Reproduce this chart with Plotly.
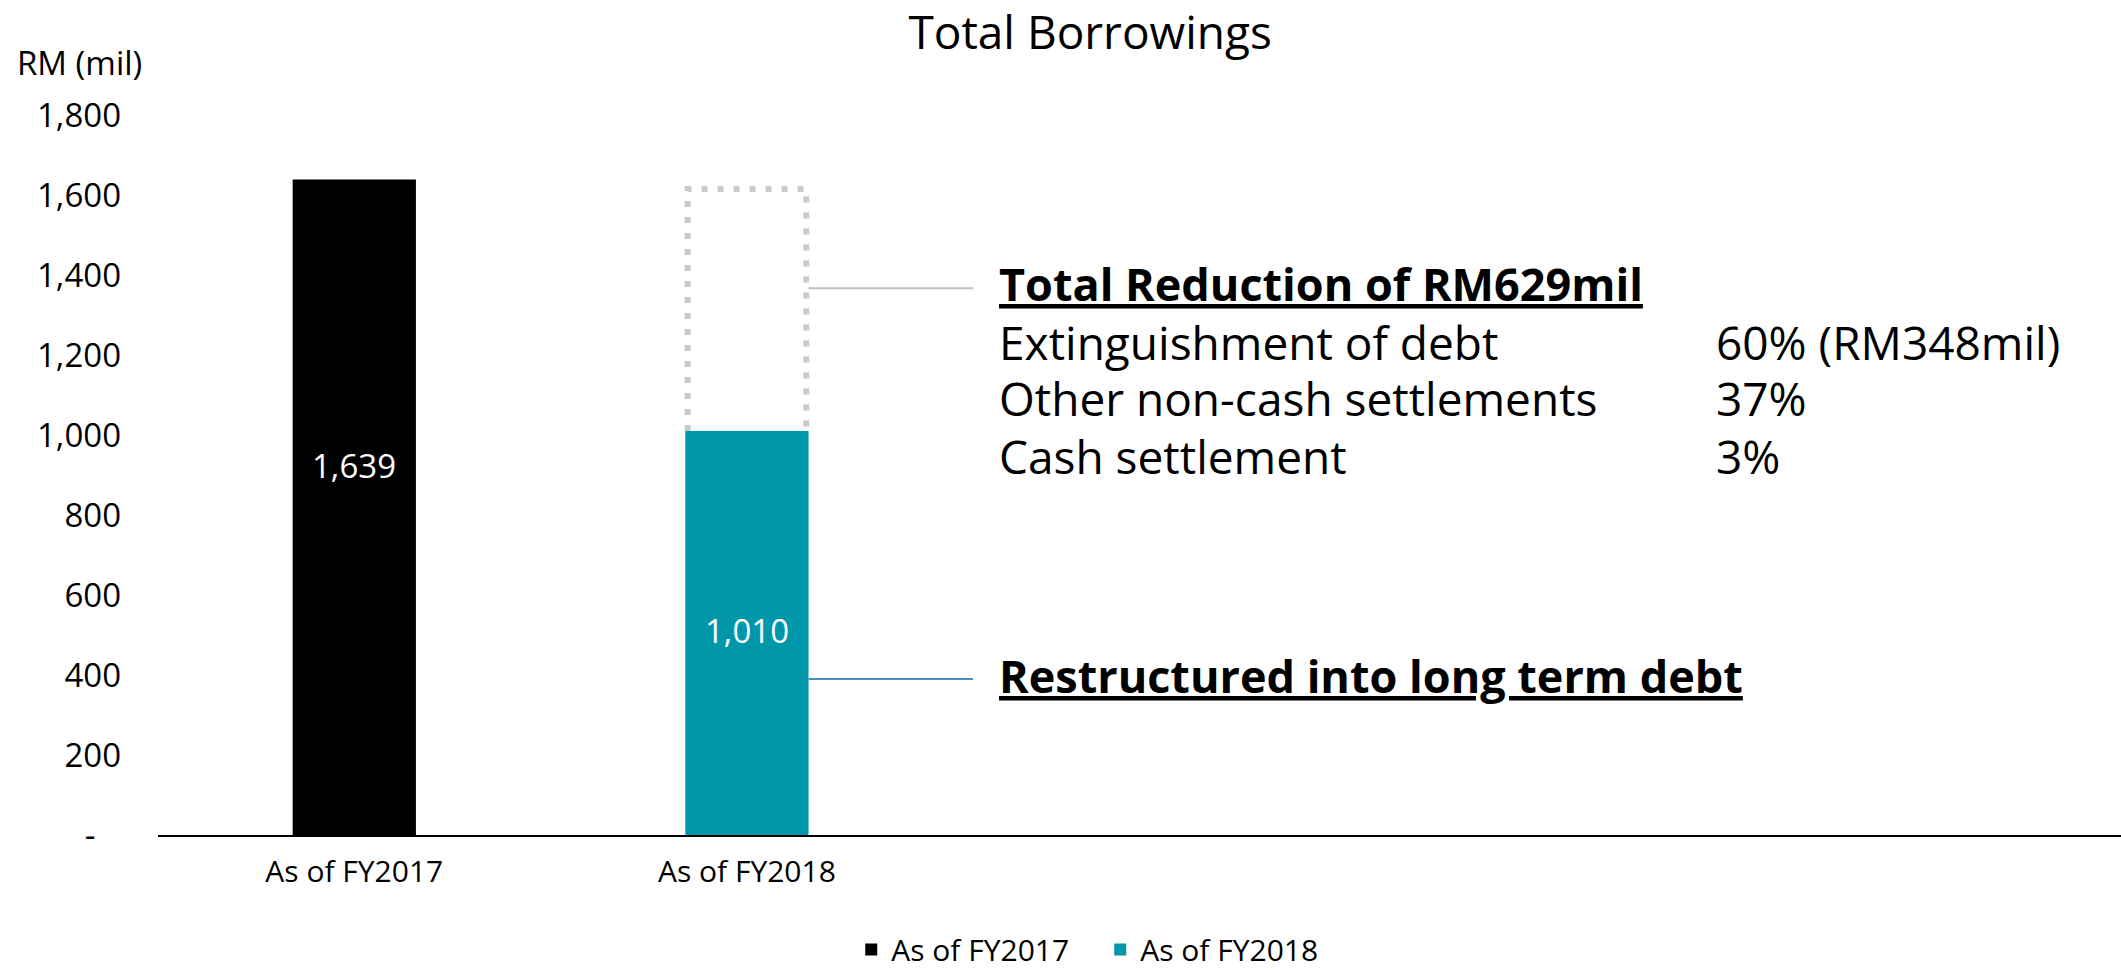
import plotly.graph_objects as go

# ---------------- data ----------------
categories = ["As of FY2017", "As of FY2018"]
values = [1639, 1010]
value_labels = ["1,639", "1,010"]
bar_colors = ["#000000", "#0097AB"]
reduction_top = 1615          # top of the dotted "reduction" box (as drawn)
y_ticks = [0, 200, 400, 600, 800, 1000, 1200, 1400, 1600, 1800]
y_ticktext = ["-\u00a0\u00a0\u00a0", "200", "400", "600", "800", "1,000",
              "1,200", "1,400", "1,600", "1,800"]
reduction_title = "Total Reduction of RM629mil"
breakdown_labels = ["Extinguishment of debt", "Other non-cash settlements", "Cash settlement"]
breakdown_pcts = ["60% (RM348mil)", "37%", "3%"]
restructured_title = "Restructured into long term debt"

FONT = "'Open Sans', 'Noto Sans', sans-serif"
BW = 0.314
xpos = list(range(len(categories)))

fig = go.Figure()
for i, (c, v, col) in enumerate(zip(categories, values, bar_colors)):
    fig.add_trace(go.Bar(x=[xpos[i]], y=[v], name=c, marker=dict(color=col, line=dict(width=0)),
                         width=BW, hoverinfo="skip"))

# dotted box above FY2018 bar
xl, xr = xpos[1] - BW / 2 + 0.006, xpos[1] + BW / 2 - 0.006
fig.add_trace(go.Scatter(x=[xl, xl, xr, xr], y=[values[1], reduction_top, reduction_top, values[1]],
                         mode="lines", line=dict(color="#CACACA", width=6, dash="6px,10px"),
                         showlegend=False, hoverinfo="skip"))

annotations = []
# bar value labels
label_y = [925, 512]
for i, t in enumerate(value_labels):
    annotations.append(dict(x=xpos[i], y=label_y[i], xref="x", yref="y", text=t, showarrow=False,
                            font=dict(color="white", size=33, family=FONT)))

# y axis unit
annotations.append(dict(x=-0.0728, y=1.0736, xref="paper", yref="paper", text="RM (mil)",
                        showarrow=False, xanchor="left", yanchor="middle",
                        font=dict(size=33, color="#000", family=FONT)))

# right side text block
TS = 46
tx, px = 0.4274, 0.7927
annotations.append(dict(x=tx, y=1380, xref="paper", yref="y", text="<b><u>%s</u></b>" % reduction_title,
                        showarrow=False, xanchor="left", yanchor="middle",
                        font=dict(size=TS - 1, color="#000", family=FONT)))
row_y = [1232, 1092, 948]
for lab, pct, yy in zip(breakdown_labels, breakdown_pcts, row_y):
    annotations.append(dict(x=tx, y=yy, xref="paper", yref="y", text=lab, showarrow=False,
                            xanchor="left", yanchor="middle", font=dict(size=TS, color="#000", family=FONT)))
    annotations.append(dict(x=px, y=yy, xref="paper", yref="y", text=pct, showarrow=False,
                            xanchor="left", yanchor="middle", font=dict(size=TS, color="#000", family=FONT)))
annotations.append(dict(x=tx, y=400, xref="paper", yref="y", text="<b><u>%s</u></b>" % restructured_title,
                        showarrow=False, xanchor="left", yanchor="middle",
                        font=dict(size=TS - 1, color="#000", family=FONT)))

shapes = [
    dict(type="line", xref="x", yref="y", x0=xpos[1] + BW / 2, x1=1.576, y0=1367, y1=1367,
         line=dict(color="#BFBFBF", width=2)),
    dict(type="line", xref="x", yref="y", x0=xpos[1] + BW / 2, x1=1.576, y0=390, y1=390,
         line=dict(color="#4A90BC", width=2)),
]

fig.update_layout(
    width=2121, height=970,
    margin=dict(l=158, r=0, t=115, b=135, autoexpand=False),
    paper_bgcolor="white", plot_bgcolor="white",
    barmode="overlay",
    font=dict(family=FONT, color="#000"),
    title=dict(text="Total Borrowings", x=0.514, xanchor="center", y=0.966, yanchor="middle",
               font=dict(size=46, color="#000", family=FONT)),
    xaxis=dict(range=[-0.5, 4.5], tickvals=xpos, ticktext=categories, showgrid=False, zeroline=False,
               showline=True, linecolor="#000", linewidth=2, ticks="", ticklabelstandoff=9,
               tickfont=dict(size=30, color="#000", family=FONT)),
    yaxis=dict(range=[0, 1800], tickvals=y_ticks, ticktext=y_ticktext, showgrid=False, zeroline=False,
               showline=False, ticks="", ticklabelstandoff=36,
               tickfont=dict(size=33, color="#000", family=FONT)),
    legend=dict(orientation="h", x=0.480, xanchor="center", y=-0.159, yanchor="middle",
                font=dict(size=30, color="#000", family=FONT), itemwidth=30, entrywidth=204),
    showlegend=True,
    annotations=annotations,
    shapes=shapes,
)

fig.write_html("out.html")
